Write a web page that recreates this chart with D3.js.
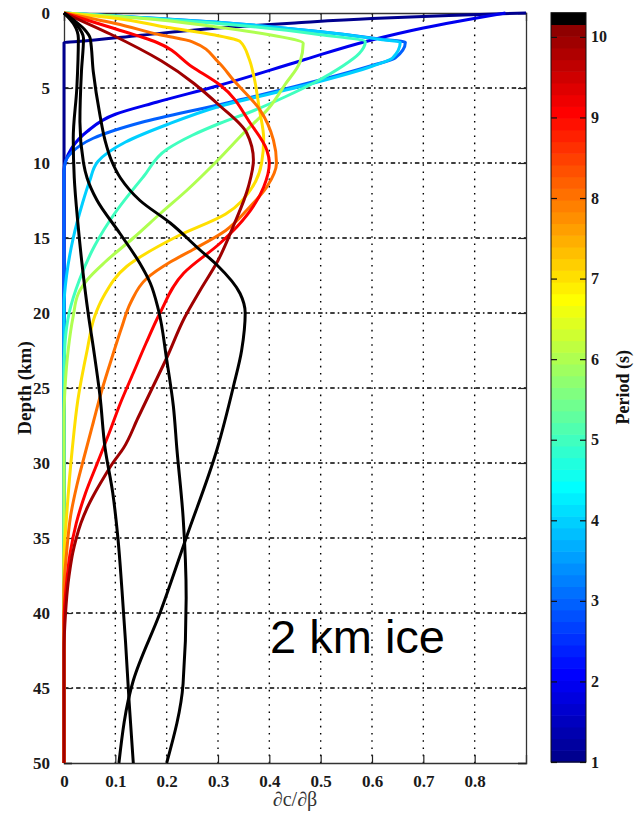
<!DOCTYPE html>
<html>
<head>
<meta charset="utf-8">
<script src="https://cdn.jsdelivr.net/npm/d3@7"></script>
<style>
  body { margin: 0; background: #fff; }
  svg { display: block; }
</style>
</head>
<body>
<svg id="chart" width="634" height="813"></svg>
<script>
// ---- data -------------------------------------------------------------
const sensitivityTicks = [0, 0.1, 0.2, 0.3, 0.4, 0.5, 0.6, 0.7, 0.8];
const depthTicks = [0, 5, 10, 15, 20, 25, 30, 35, 40, 45, 50];
const periodTicks = [1, 2, 3, 4, 5, 6, 7, 8, 9, 10];

// period (s) of each kernel; the last three lie above the colour range
const periods = [1, 2, 3, 4, 5, 6, 7, 8, 9, 10, 15, 20, 30];

// kernels as [dc/dbeta, depth km]
const kernelP1 = [[0.9,0],[0.75,0.17],[0.6,0.37],[0.45,0.66],[0.3,1.0],[0.15,1.48],[0.02,1.92],[0,1.97],[0,2.3],[0,50]];
const kernelP2 = [[0.86,0],[0.70,1.0],[0.59,1.88],[0.46,3.2],[0.3,4.85],[0.18,5.95],[0.1,6.75],[0.045,7.9],[0.015,9.0],[0.003,9.9],[0,10.5],[0,50]];
const kernelP3 = [[0,0],[0.15,0.3],[0.3,0.62],[0.5,1.25],[0.62,1.75],[0.665,1.95],[0.645,3.0],[0.6,3.5],[0.45,4.9],[0.3,6.13],[0.15,7.3],[0.057,8.35],[0.015,9.3],[0.003,9.9],[0,10.6],[0,50]];
const kernelP4 = [[0,0],[0.1,0.2],[0.3,0.62],[0.5,1.25],[0.62,1.78],[0.655,1.95],[0.64,3.0],[0.6,3.55],[0.46,4.9],[0.3,6.25],[0.2,7.45],[0.12,8.6],[0.066,9.9],[0.05,11.2],[0.035,12.8],[0.018,15],[0.005,17.5],[0,19.5],[0,50]];
const kernelP5 = [[0,0],[0.1,0.22],[0.3,0.7],[0.5,1.45],[0.587,1.91],[0.575,2.7],[0.54,3.6],[0.49,4.6],[0.43,5.6],[0.37,6.5],[0.304,7.35],[0.25,8.15],[0.2,9.1],[0.155,10.9],[0.1,13.3],[0.06,15.5],[0.03,17.8],[0.01,20],[0.002,22],[0,24],[0,50]];
const kernelP6 = [[0,0],[0.15,0.35],[0.294,0.91],[0.4,1.45],[0.466,2.02],[0.46,3.25],[0.43,4.8],[0.4,6.3],[0.35,8.0],[0.3,9.8],[0.24,11.8],[0.19,13.3],[0.135,15],[0.08,16.6],[0.045,17.8],[0.028,18.7],[0.018,20.2],[0.008,22.5],[0.002,25],[0,27],[0,50]];
const kernelP7 = [[0,0],[0.1,0.35],[0.2,0.95],[0.294,1.47],[0.343,1.9],[0.36,3.0],[0.37,4.25],[0.38,6.3],[0.389,8.4],[0.385,10.0],[0.365,11.7],[0.315,13.4],[0.22,14.9],[0.122,16.9],[0.077,18.9],[0.06,20.2],[0.045,22.5],[0.027,25.8],[0.016,29.1],[0.005,33.6],[0,36.5],[0,50]];
const kernelP8 = [[0,0],[0.1,0.7],[0.187,1.45],[0.25,1.92],[0.3,3.25],[0.33,4.47],[0.382,6.47],[0.408,8.47],[0.414,10.0],[0.395,11.6],[0.36,13],[0.315,14.5],[0.25,15.8],[0.207,16.6],[0.161,17.7],[0.13,19.3],[0.112,21],[0.095,22.8],[0.075,25],[0.057,27.3],[0.04,29.5],[0.025,31.5],[0.013,33.5],[0.005,36],[0,38.5],[0,50]];
const kernelP9 = [[0,0],[0.09,0.95],[0.18,1.95],[0.25,3.6],[0.304,4.8],[0.363,7.35],[0.395,9.13],[0.40,10.0],[0.389,11.6],[0.337,14.25],[0.304,15.35],[0.233,17.35],[0.187,20],[0.16,22],[0.135,24],[0.11,26],[0.088,28],[0.065,30],[0.042,32],[0.024,34],[0.012,36],[0.005,38],[0,40.5],[0,50]];
const kernelP10 = [[0,0],[0.09,1.4],[0.19,3.2],[0.304,6.2],[0.356,8.0],[0.369,9.8],[0.359,11.6],[0.33,14.2],[0.3,16.5],[0.265,18.5],[0.235,20.3],[0.2,23],[0.172,25],[0.144,27],[0.116,29],[0.095,30],[0.077,31],[0.06,32],[0.045,33],[0.033,34],[0.024,35],[0.017,36],[0.012,37],[0.008,38],[0.003,40],[0,42.5],[0,50]];
const kernelP15 = [[0,0],[0.02,0.5],[0.04,1.1],[0.051,1.69],[0.057,3.9],[0.07,6.8],[0.08,8.5],[0.092,9.8],[0.11,11.0],[0.148,12.5],[0.207,14.0],[0.265,15.8],[0.298,16.8],[0.343,18.7],[0.353,20.0],[0.346,22.5],[0.33,24.9],[0.298,29.1],[0.239,34.9],[0.187,40],[0.135,44.5],[0.107,50]];
const kernelP20 = [[0,0],[0.025,0.8],[0.038,1.69],[0.034,3.9],[0.031,7.25],[0.038,10],[0.045,11],[0.064,12.47],[0.109,14.7],[0.148,16.7],[0.168,18],[0.184,19.8],[0.2,23.1],[0.213,26.2],[0.22,29.1],[0.232,33.6],[0.238,39],[0.232,44.7],[0.2,50]];
const kernelP30 = [[0,0],[0.02,0.8],[0.028,1.69],[0.025,5],[0.018,8.35],[0.02,11],[0.027,14],[0.036,17],[0.047,20],[0.058,22.5],[0.07,25.5],[0.08,29],[0.095,32],[0.105,35],[0.113,38.5],[0.12,42],[0.127,46],[0.135,50]];

const kernels = [kernelP1, kernelP2, kernelP3, kernelP4, kernelP5, kernelP6, kernelP7,
                 kernelP8, kernelP9, kernelP10, kernelP15, kernelP20, kernelP30];

// ---- colour map: 64-level jet with the top level set to black ----------
function jetRow(i) { // i: 1..64
  const u = k => (k <= 16 ? k / 16 : k <= 31 ? 1 : (48 - k) / 16);
  const g = (i >= 9 && i <= 55) ? u(i - 8) : 0;
  const r = (i >= 25) ? u(i - 24) : 0;
  const b = (i <= 39) ? u(i + 8) : 0;
  return d3.rgb(r * 255, g * 255, b * 255);
}
const nLevels = 64;
const periodDomain = [1, 10.3];
const levelColours = d3.range(1, nLevels + 1).map(i => i === nLevels ? d3.rgb(0, 0, 0) : jetRow(i));
function periodColour(p) {
  const t = (p - periodDomain[0]) / (periodDomain[1] - periodDomain[0]);
  const idx = Math.max(0, Math.min(nLevels - 1, Math.floor(t * nLevels)));
  return levelColours[idx].formatHex();
}

// ---- layout -----------------------------------------------------------
const svg = d3.select("#chart");
const plot = { left: 64, right: 526, top: 13, bottom: 763 };
const x = d3.scaleLinear().domain([0, 0.9]).range([plot.left, plot.right]);
const y = d3.scaleLinear().domain([0, 50]).range([plot.top, plot.bottom]);
const serif = "'Liberation Serif','Times New Roman',Times,serif";

// grid
const grid = svg.append("g").attr("stroke", "#000").attr("stroke-width", 1.4).attr("fill", "none");
grid.selectAll("line.v").data(sensitivityTicks.filter(d => d > 0)).join("line")
  .attr("x1", d => x(d)).attr("x2", d => x(d))
  .attr("y1", plot.top).attr("y2", plot.bottom)
  .attr("stroke-dasharray", "1.6,5.6");
grid.selectAll("line.h").data(depthTicks.filter(d => d > 0 && d < 50)).join("line")
  .attr("x1", plot.left).attr("x2", plot.right)
  .attr("y1", d => y(d)).attr("y2", d => y(d))
  .attr("stroke-dasharray", "4.5,3,1.6,3");

// axes
const tickLen = 8;
const xAxisB = d3.axisBottom(x).tickValues(sensitivityTicks).tickSize(-tickLen).tickPadding(tickLen + 4)
  .tickFormat(d => d === 0 ? "0" : d3.format(".1f")(d));
const xAxisT = d3.axisTop(x).tickValues(sensitivityTicks).tickSize(-tickLen).tickFormat("");
const yAxisL = d3.axisLeft(y).tickValues(depthTicks).tickSize(-tickLen).tickPadding(tickLen + 6);
const yAxisR = d3.axisRight(y).tickValues(depthTicks).tickSize(-tickLen).tickFormat("");

function styleAxis(g) {
  g.select(".domain").attr("stroke", "#333").attr("stroke-width", 1.3);
  g.selectAll(".tick line").attr("stroke", "#222").attr("stroke-width", 1.2);
  g.selectAll("text").attr("font-family", serif).attr("font-weight", "bold")
    .attr("font-size", 17).attr("fill", "#1a1a1a");
}
svg.append("g").attr("transform", `translate(0,${plot.bottom})`).call(xAxisB).call(styleAxis);
svg.append("g").attr("transform", `translate(0,${plot.top})`).call(xAxisT).call(styleAxis);
svg.append("g").attr("transform", `translate(${plot.left},0)`).call(yAxisL).call(styleAxis);
svg.append("g").attr("transform", `translate(${plot.right},0)`).call(yAxisR).call(styleAxis);

// kernels
const line = d3.line().x(d => x(d[0])).y(d => y(d[1])).curve(d3.curveMonotoneY);
svg.append("g").attr("fill", "none").attr("stroke-width", 3).attr("stroke-linejoin", "round")
  .selectAll("path").data(kernels).join("path")
  .attr("stroke", (d, i) => periodColour(periods[i]))
  .attr("d", line);

// axis titles
svg.append("text").attr("x", (plot.left + plot.right) / 2).attr("y", 806)
  .attr("text-anchor", "middle").attr("font-family", serif).attr("font-size", 20)
  .attr("fill", "#333").text("∂c/∂β");
svg.append("text").attr("transform", `translate(31,${(plot.top + plot.bottom) / 2}) rotate(-90)`)
  .attr("text-anchor", "middle").attr("font-family", serif).attr("font-weight", "bold")
  .attr("font-size", 19).attr("fill", "#111").text("Depth (km)");

// annotation
svg.append("text").attr("x", 270).attr("y", 653)
  .attr("font-family", "'Liberation Sans',Arial,sans-serif").attr("font-size", 47)
  .attr("fill", "#000").text("2 km ice");

// colour bar
const bar = { left: 551, right: 586, top: 12.7, bottom: 762 };
const c = d3.scaleLinear().domain(periodDomain).range([bar.bottom, bar.top]);
const step = (periodDomain[1] - periodDomain[0]) / nLevels;
const cb = svg.append("g");
cb.selectAll("rect").data(levelColours).join("rect")
  .attr("x", bar.left).attr("width", bar.right - bar.left)
  .attr("y", (d, i) => c(periodDomain[0] + (i + 1) * step))
  .attr("height", (d, i) => c(periodDomain[0] + i * step) - c(periodDomain[0] + (i + 1) * step) + 0.6)
  .attr("fill", d => d.formatHex());
cb.append("rect").attr("x", bar.left).attr("y", bar.top)
  .attr("width", bar.right - bar.left).attr("height", bar.bottom - bar.top)
  .attr("fill", "none").attr("stroke", "#111").attr("stroke-width", 1);
const cAxisR = d3.axisRight(c).tickValues(periodTicks).tickSize(-6).tickPadding(10);
const cAxisL = d3.axisLeft(c).tickValues(periodTicks).tickSize(-6).tickFormat("");
cb.append("g").attr("transform", `translate(${bar.right},0)`).call(cAxisR).call(g => {
  g.select(".domain").remove();
  g.selectAll(".tick line").attr("stroke", "#111").attr("stroke-width", 1.2);
  g.selectAll("text").attr("font-family", serif).attr("font-weight", "bold")
    .attr("font-size", 16).attr("fill", "#1a1a1a").attr("x", 5);
});
cb.append("g").attr("transform", `translate(${bar.left},0)`).call(cAxisL).call(g => {
  g.select(".domain").remove();
  g.selectAll(".tick line").attr("stroke", "#111").attr("stroke-width", 1.2);
});
svg.append("text").attr("transform", `translate(629,${(bar.top + bar.bottom) / 2}) rotate(-90)`)
  .attr("text-anchor", "middle").attr("font-family", serif).attr("font-weight", "bold")
  .attr("font-size", 18).attr("fill", "#111").text("Period (s)");
</script>
</body>
</html>
